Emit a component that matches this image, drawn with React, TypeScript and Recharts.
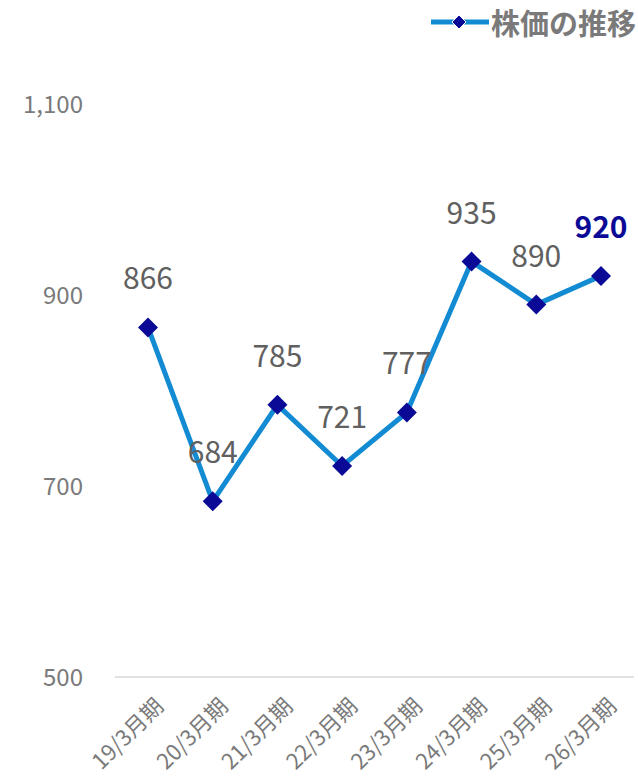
import React from "react";
import { LineChart, Line, XAxis, YAxis, LabelList } from "recharts";

const categories = ["19/3月期", "20/3月期", "21/3月期", "22/3月期", "23/3月期", "24/3月期", "25/3月期", "26/3月期"];
const prices = [866, 684, 785, 721, 777, 935, 890, 920];
const yTicks = [500, 700, 900, 1100];
const seriesName = "株価の推移";

const data = categories.map((c, i) => ({ period: c, price: prices[i] }));

const FONT = '"Noto Sans CJK JP", "Noto Sans", sans-serif';
const LINE = "#138bd2";
const MARK = "#0a0a96";
const GRAY = "#7a7a7a";

const Diamond = (props: any) => {
  const { cx, cy } = props;
  if (cx == null || cy == null) return null;
  const r = 10;
  return <path d={`M${cx},${cy - r}L${cx + r},${cy}L${cx},${cy + r}L${cx - r},${cy}Z`} fill={MARK} />;
};

const XTick = (props: any) => {
  const { x, y, payload } = props;
  return (
    <g transform={`translate(${x + 2},${y + 8})`}>
      <text transform="rotate(-45)" textAnchor="end" dominantBaseline="hanging" fill={GRAY} fontSize={22} fontFamily={FONT}>
        {payload.value}
      </text>
    </g>
  );
};

const DataLabel = (props: any) => {
  const { x, y, value, index } = props;
  const last = index === prices.length - 1;
  return (
    <text x={x} y={y - 51} textAnchor="middle" dominantBaseline="central" fontSize={30} fontFamily={FONT}
      fontWeight={last ? 700 : 400} fill={last ? MARK : "#606060"}>
      {value}
    </text>
  );
};

const LegendBox = () => (
  <div style={{ position: "absolute", top: 6, right: 2, display: "flex", alignItems: "center", fontFamily: FONT }}>
    <svg width={58} height={20}>
      <line x1={0} y1={10} x2={58} y2={10} stroke={LINE} strokeWidth={5} />
      <path d="M28,3L35,10L28,17L21,10Z" fill={MARK} stroke="#fff" strokeWidth={1} />
    </svg>
    <span style={{ fontSize: 29, fontWeight: 700, color: GRAY, marginLeft: 2, lineHeight: "32px" }}>{seriesName}</span>
  </div>
);

export default function App() {
  return (
    <div style={{ position: "absolute", left: 0, top: 0, width: 638, height: 778 }}>
      <LineChart width={638} height={778} data={data} margin={{ top: 104, right: 4, bottom: 0, left: 0 }}>
        <XAxis dataKey="period" tick={<XTick />} tickLine={false} axisLine={{ stroke: "#d9d9d9", strokeWidth: 1.5 }}
          interval={0} height={101} padding={{ left: 33, right: 33 }} />
        <YAxis domain={[500, 1100]} ticks={yTicks} width={115} tickSize={0} tickMargin={32} axisLine={false} tickLine={false}
          tick={{ fill: GRAY, fontSize: 24, fontFamily: FONT }}
          tickFormatter={(v: number) => v.toLocaleString("en-US")} />
        <Line dataKey="price" name={seriesName} stroke={LINE} strokeWidth={5} dot={<Diamond />} activeDot={false} isAnimationActive={false}>
          <LabelList dataKey="price" content={<DataLabel />} />
        </Line>
      </LineChart>
      <LegendBox />
    </div>
  );
}
